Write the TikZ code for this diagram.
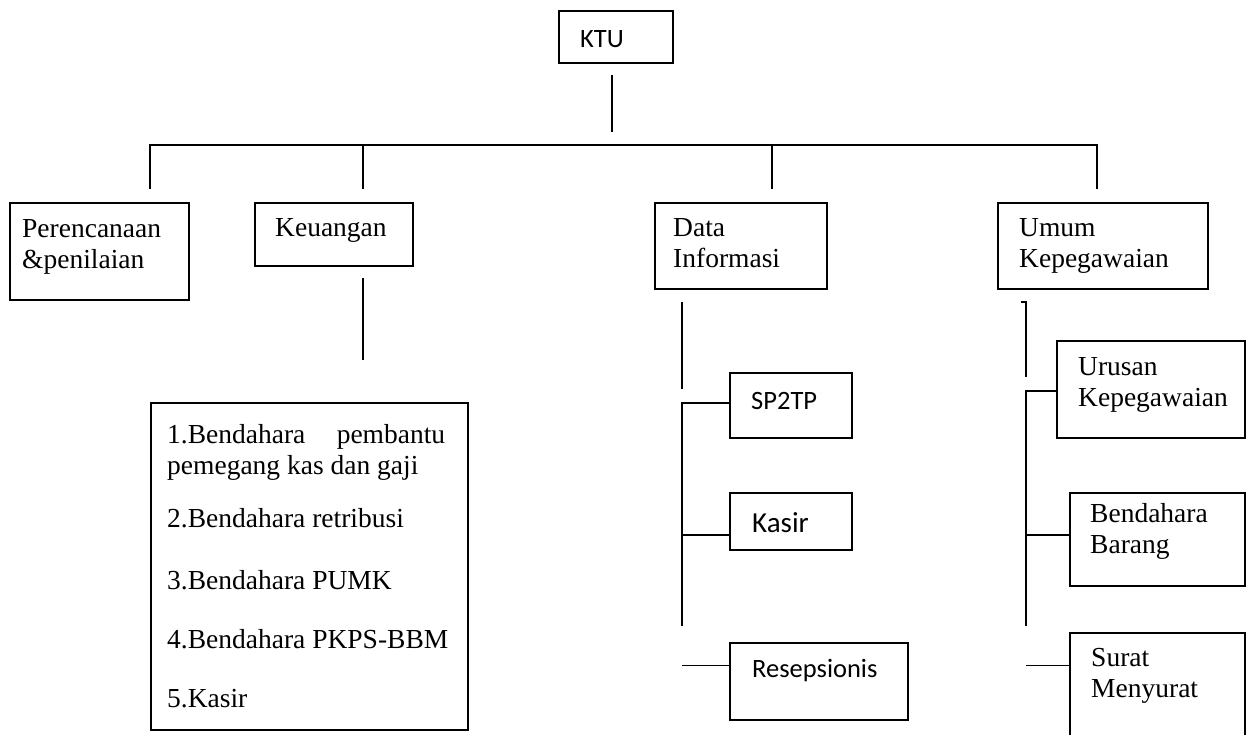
\documentclass[tikz,border=0pt]{standalone}
\usepackage{fontspec}
\setmainfont{Liberation Serif}
\newfontfamily\sanscal{Carlito}
\newcommand\twol[3][31pt]{{\setlength\baselineskip{#1}\begin{tabular}[t]{@{}l@{}}#2\\#3\end{tabular}}}
\tikzset{
  box/.style={draw, line width=1.6pt, inner sep=0pt, anchor=north west},
  ln/.style={line width=1.6pt},
  rmtxt/.style={anchor=base west, inner sep=0pt, font=\fontsize{27.5}{31}\selectfont},
  sftxt/.style={anchor=base west, inner sep=0pt, font=\sanscal\fontsize{26.5}{31}\selectfont},
}
\begin{document}
\begin{tikzpicture}[x=1pt, y=-1pt]
\useasboundingbox (0,0) rectangle (1247,735);
\clip (0,0) rectangle (1247,735);

% boxes
\node[box, minimum width=114pt, minimum height=52pt] (ktu) at (558,10) {};
\node[box, minimum width=179pt, minimum height=97pt] (per) at (9,202) {};
\node[box, minimum width=158pt, minimum height=63pt] (keu) at (254,202) {};
\node[box, minimum width=172pt, minimum height=86pt] (dat) at (654,202) {};
\node[box, minimum width=210pt, minimum height=86pt] (umu) at (997,202) {};
\node[box, minimum width=317pt, minimum height=327pt] (lst) at (150,402) {};
\node[box, minimum width=122pt, minimum height=65pt] (sp) at (729,372) {};
\node[box, minimum width=122pt, minimum height=57pt] (kas) at (729,492) {};
\node[box, minimum width=178pt, minimum height=77pt] (res) at (729,642) {};
\node[box, minimum width=188pt, minimum height=97pt] (uru) at (1056,340) {};
\node[box, minimum width=175pt, minimum height=93pt] (bba) at (1069,492) {};
\node[box, minimum width=175pt, minimum height=140pt] (sur) at (1069,632) {};

% texts
\node[sftxt] (ktut) at (580,48) {KTU};
\node[rmtxt] (pert) at (22,238) {\twol{Perencanaan}{\&penilaian}};
\node[rmtxt] (keut) at (275,237) {Keuangan};
\node[rmtxt] (datt) at (673,237) {\twol{Data}{Informasi}};
\node[rmtxt] (umut) at (1019,237) {\twol{Umum}{Kepegawaian}};
\node[rmtxt] (lstt) at (167,443) {{\setlength\baselineskip{29pt}\begin{tabular}[t]{@{}l@{}}
\hbox to 278pt{1.Bendahara\hfill pembantu}\\
pemegang kas dan gaji\\[22pt]
2.Bendahara retribusi\\[31pt]
3.Bendahara PUMK\\[28pt]
4.Bendahara PKPS-BBM\\[28pt]
5.Kasir
\end{tabular}}};
\node[sftxt] (spt) at (751,409) {SP2TP};
\node[sftxt, font=\sanscal\fontsize{29}{31}\selectfont] (kast) at (752,532) {Kasir};
\node[sftxt] (rest) at (752,677) {Resepsionis};
\node[rmtxt] (urut) at (1078,375) {\twol[35pt]{Urusan}{Kepegawaian}};
\node[rmtxt] (bbat) at (1090,522) {\twol[34pt]{Bendahara}{Barang}};
\node[rmtxt] (surt) at (1091,666) {\twol[34pt]{Surat}{Menyurat}};

% connector end points
\coordinate (k1) at (612,75);
\coordinate (k2) at (612,132);
\coordinate (bL) at (150,145);
\coordinate (bR) at (1097,145);
\coordinate (dp) at (150,189);
\coordinate (dk) at (363,189);
\coordinate (dd) at (772,189);
\coordinate (du) at (1097,189);
\coordinate (kd1) at (363,278);
\coordinate (kd2) at (363,360);
\coordinate (da1) at (682,302);
\coordinate (da2) at (682,389);
\coordinate (da3) at (682,626);
\coordinate (spw) at ([yshift=2.5pt]sp.west);
\coordinate (kasw) at ([yshift=-13.5pt]kas.west);
\coordinate (resw) at ([yshift=16pt]res.west);
\coordinate (ua0) at (1021,302);
\coordinate (ua1) at (1026,302);
\coordinate (ua2) at (1026,377);
\coordinate (ua3) at (1026,626);
\coordinate (uruw) at ([yshift=-1.5pt]uru.west);
\coordinate (bbaw) at ([yshift=4.5pt]bba.west);
\coordinate (surw) at ([yshift=37.5pt]sur.west);

% connectors
\draw[ln] (k1) -- (k2);
\draw[ln] (dp) |- (bR) -- (du);
\draw[ln] (dk) -- (dk |- bL);
\draw[ln] (dd) -- (dd |- bL);
\draw[ln] (kd1) -- (kd2);
\draw[ln] (da1) -- (da2);
\draw[ln] (spw) -| (da3);
\draw[ln] (kasw) -- (kasw -| da3);
\draw[ln] (resw) -- (resw -| da3);
\draw[ln] (ua0) -- (ua1) -- (ua2);
\draw[ln] (uruw) -| (ua3);
\draw[ln] (bbaw) -- (bbaw -| ua3);
\draw[ln] (surw) -- (surw -| ua3);
\end{tikzpicture}
\end{document}
